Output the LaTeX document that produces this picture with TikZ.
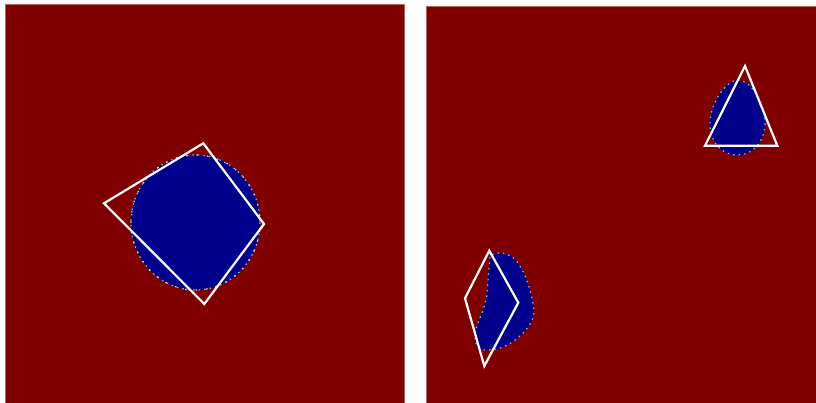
\documentclass[tikz,border=0pt]{standalone}
\definecolor{jetred}{RGB}{128,0,0}
\definecolor{jetblue}{RGB}{0,0,140}
\definecolor{edgecyan}{RGB}{90,200,240}
\definecolor{edgeyel}{RGB}{240,220,120}
\tikzset{
  panel/.style={fill=jetred, draw=jetred!60!white, line width=0.6pt},
  blob/.style={fill=jetblue},
  rim/.style={draw=edgecyan, line width=1.2pt, dash pattern=on 1.5pt off 4pt},
  rimy/.style={draw=edgeyel, line width=1.2pt, dash pattern=on 1.5pt off 9pt, dash phase=3pt},
  outline/.style={draw=white, line width=2.2pt, line join=miter}
}
\begin{document}
\begin{tikzpicture}[x=1pt,y=-1pt]
\useasboundingbox (0,0) rectangle (816,403);
\fill[white] (0,0) rectangle (816,403);
% panels
\path[panel] (5,4) rectangle (404,403);
\path[panel] (426,6) rectangle (816,403);
% left blob (circle)
\path[blob] (195.5,222.5) ellipse [x radius=64.5, y radius=67.5];
\path[rim] (195.5,222.5) ellipse [x radius=64.5, y radius=67.5];
\path[rimy] (195.5,222.5) ellipse [x radius=64.5, y radius=67.5];
% left square
\draw[outline] (203.3,143.3) -- (264,224) -- (204.3,304) -- (104,203.3) -- cycle;
% right top blob (egg)
\path[blob] (738,80) .. controls (750,80) and (765,102) .. (765,122)
  .. controls (765,143) and (752,155) .. (737.5,155)
  .. controls (722,155) and (710,143) .. (710,124)
  .. controls (710,102) and (727,80) .. (738,80) -- cycle;
\path[rim] (738,80) .. controls (750,80) and (765,102) .. (765,122)
  .. controls (765,143) and (752,155) .. (737.5,155)
  .. controls (722,155) and (710,143) .. (710,124)
  .. controls (710,102) and (727,80) .. (738,80) -- cycle;
% triangle
\draw[outline] (745,66) -- (777.3,145.7) -- (705,145.7) -- cycle;
% bottom-left blob (kidney)
\path[blob] (490,257) -- (486.7,296.7) .. controls (483,315) and (475,325) .. (475,336.7)
  .. controls (475,345) and (478,350) .. (486,350)
  .. controls (495,350) and (505,348) .. (515,340)
  .. controls (530,328) and (536,318) .. (533.3,305)
  .. controls (530,285) and (522,265) .. (513.3,258)
  .. controls (506,252) and (496,251) .. (490,257) -- cycle;
\path[rim] (490,257) -- (486.7,296.7) .. controls (483,315) and (475,325) .. (475,336.7)
  .. controls (475,345) and (478,350) .. (486,350)
  .. controls (495,350) and (505,348) .. (515,340)
  .. controls (530,328) and (536,318) .. (533.3,305)
  .. controls (530,285) and (522,265) .. (513.3,258)
  .. controls (506,252) and (496,251) .. (490,257) -- cycle;
% quadrilateral
\draw[outline] (489.3,250.7) -- (518.3,302.7) -- (484.3,366) -- (465,298.3) -- cycle;
\end{tikzpicture}
\end{document}
